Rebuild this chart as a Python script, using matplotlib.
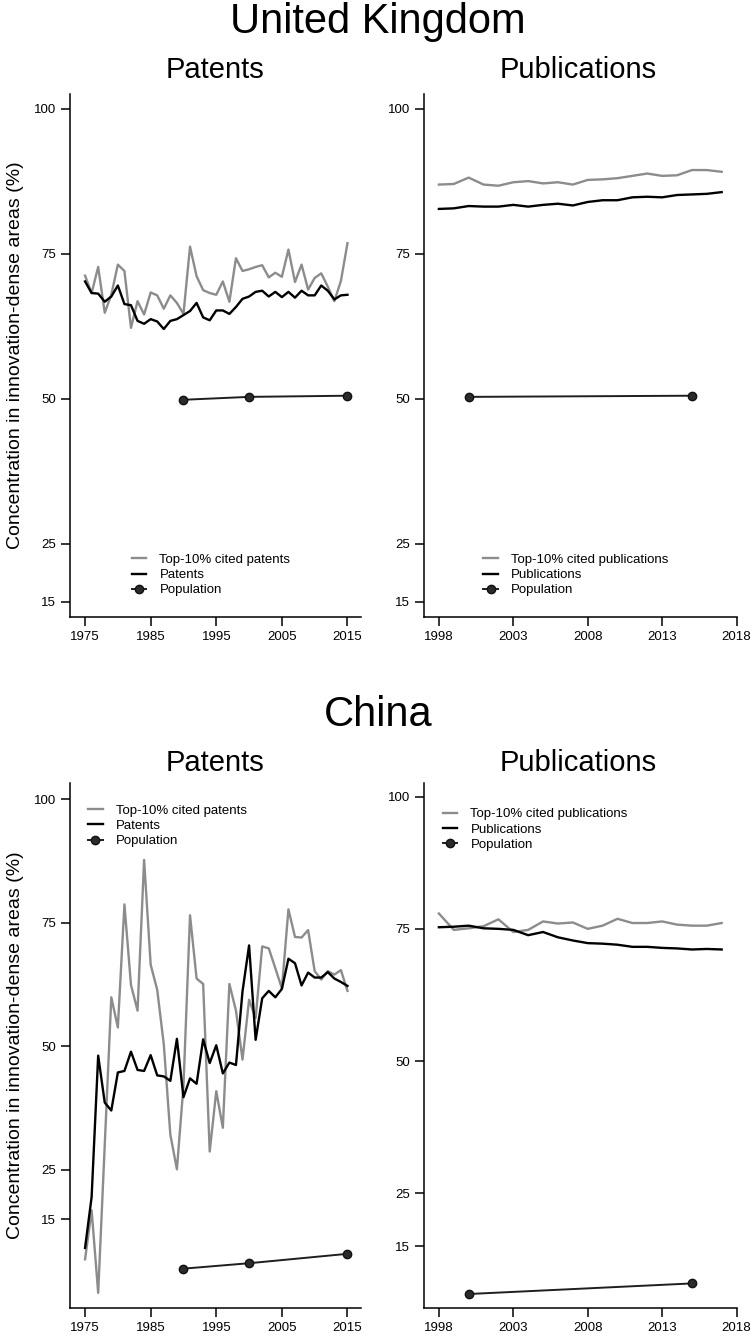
import matplotlib
matplotlib.use("Agg")
import matplotlib.pyplot as plt
from matplotlib.lines import Line2D

plt.rcParams['font.family'] = ['Liberation Sans', 'DejaVu Sans']

# ---- data ----
pat_years = list(range(1975, 2016))
pub_years = list(range(1998, 2018))
pop_years_pat = [1990, 2000, 2015]
pop_years_pub = [2000, 2015]

uk_patents = [70.2, 68.2, 68.1, 66.7, 67.6, 69.5, 66.3, 66.1, 63.4, 62.9,
              63.7, 63.3, 62.0, 63.4, 63.7, 64.4, 65.1, 66.5, 64.0, 63.5,
              65.2, 65.2, 64.6, 65.8, 67.2, 67.6, 68.4, 68.6, 67.6, 68.4,
              67.5, 68.4, 67.4, 68.6, 67.8, 67.8, 69.5, 68.6, 67.1, 67.8,
              67.9]
uk_patents_top = [71.2, 68.2, 72.7, 64.8, 67.9, 73.1, 72.0, 62.2, 66.8, 64.5,
                  68.3, 67.8, 65.5, 67.8, 66.5, 64.6, 76.2, 71.1, 68.7, 68.2,
                  67.9, 70.2, 66.7, 74.2, 72.0, 72.3, 72.7, 73.0, 70.9, 71.7,
                  71.0, 75.7, 70.1, 73.1, 68.8, 70.8, 71.6, 69.3, 66.8, 70.3,
                  76.8]
uk_pop_pat = [49.8, 50.3, 50.5]

uk_pubs = [82.7, 82.8, 83.2, 83.1, 83.1, 83.4, 83.1, 83.4, 83.6, 83.3,
           83.9, 84.2, 84.2, 84.7, 84.8, 84.7, 85.1, 85.2, 85.3, 85.6]
uk_pubs_top = [86.9, 87.0, 88.1, 86.9, 86.7, 87.3, 87.5, 87.1, 87.3, 86.9,
               87.7, 87.8, 88.0, 88.4, 88.8, 88.4, 88.5, 89.4, 89.4, 89.1]
uk_pop_pub = [50.3, 50.5]

cn_patents = [9.2, 19.5, 48.1, 38.6, 37.0, 44.7, 45.0, 48.9, 45.2, 45.0,
              48.2, 44.1, 43.9, 43.0, 51.5, 39.7, 43.5, 42.4, 51.4, 46.6,
              50.2, 44.5, 46.7, 46.2, 61.1, 70.4, 51.3, 59.7, 61.2, 59.9,
              61.6, 67.7, 66.8, 62.3, 64.9, 63.9, 63.9, 65.0, 63.7, 63.0,
              62.2]
cn_patents_top = [6.9, 16.8, 0.1, 30.0, 59.9, 53.8, 78.7, 62.4, 57.2, 87.7,
                  66.5, 61.4, 50.4, 32.1, 25.1, 42.0, 76.5, 63.7, 62.6, 28.7,
                  40.9, 33.5, 62.6, 57.2, 47.3, 59.4, 55.7, 70.2, 69.8, 65.8,
                  61.7, 77.7, 72.1, 72.0, 73.5, 65.2, 63.5, 65.2, 64.5, 65.4,
                  61.2]
cn_pop_pat = [5.0, 6.1, 8.0]

cn_pubs = [75.3, 75.4, 75.6, 75.1, 75.0, 74.8, 73.8, 74.4, 73.4, 72.8,
           72.3, 72.2, 72.0, 71.6, 71.6, 71.4, 71.3, 71.1, 71.2, 71.1]
cn_pubs_top = [77.9, 74.8, 75.1, 75.5, 76.8, 74.4, 74.8, 76.4, 76.0, 76.2,
               75.0, 75.6, 76.9, 76.1, 76.1, 76.4, 75.8, 75.6, 75.6, 76.1]
cn_pop_pub = [6.0, 8.0]

y_ticks = [15, 25, 50, 75, 100]
pat_ticks = [1975, 1985, 1995, 2005, 2015]
pub_ticks = [1998, 2003, 2008, 2013, 2018]

GRAY = '#8c8c8c'
BLACK = '#000000'
POP = '#1e1e1e'

W, H = 756, 1342
fig = plt.figure(figsize=(W / 100, H / 100), dpi=100)


def rect(l, t, r, b):
    return [l / W, 1 - b / H, (r - l) / W, (b - t) / H]


def draw_panel(box, years, main, top, pop_years, pop, ylim, xlim, xticks,
               kind, leg_xy):
    ax = fig.add_axes(rect(*box))
    ax.plot(years, top, color=GRAY, lw=1.7, label='Top-10% cited ' + kind.lower())
    ax.plot(years, main, color=BLACK, lw=1.7, label=kind)
    ax.plot(pop_years, pop, color=POP, lw=1.4, marker='o', ms=6,
            mfc='#2b2b2b', mec='#111111', label='Population')
    ax.set_xlim(*xlim)
    ax.set_ylim(*ylim)
    ax.set_xticks(xticks)
    ax.set_yticks(y_ticks)
    for s in ['top', 'right']:
        ax.spines[s].set_visible(False)
    for s in ['left', 'bottom']:
        ax.spines[s].set_linewidth(1.1)
    ax.tick_params(direction='out', length=6.7, width=1.1, labelsize=9.5,
                   pad=3.5)
    ax.legend(loc='center left', bbox_to_anchor=(leg_xy[0] / W, 1 - leg_xy[1] / H),
              bbox_transform=fig.transFigure, frameon=False, fontsize=9.5,
              handlelength=1.1, handletextpad=1.0, labelspacing=0.22,
              borderpad=0, borderaxespad=0)
    return ax


# United Kingdom
draw_panel((70.3, 93.5, 360.6, 617.3), pat_years, uk_patents, uk_patents_top,
           pop_years_pat, uk_pop_pat, (12.3, 102.6), (1972.75, 2017.0),
           pat_ticks, 'Patents', (131.7, 575))
draw_panel((424, 93.5, 737.3, 617.3), pub_years, uk_pubs, uk_pubs_top,
           pop_years_pub, uk_pop_pub, (12.3, 102.6), (1997.0, 2018.05),
           pub_ticks, 'Publications', (483.3, 575))

# China
draw_panel((70.3, 783.3, 360.6, 1307.7), pat_years, cn_patents, cn_patents_top,
           pop_years_pat, cn_pop_pat, (-2.9, 103.2), (1972.75, 2017.0),
           pat_ticks, 'Patents', (88, 826))
draw_panel((424, 783.3, 737.3, 1308.3), pub_years, cn_pubs, cn_pubs_top,
           pop_years_pub, cn_pop_pub, (3.3, 102.5), (1997.0, 2018.05),
           pub_ticks, 'Publications', (442.7, 829.5))

# titles
fig.text(0.5, 1 - 22 / H, 'United Kingdom', ha='center', va='center', fontsize=30)
fig.text(215.5 / W, 1 - 70 / H, 'Patents', ha='center', va='center', fontsize=21)
fig.text(578 / W, 1 - 70 / H, 'Publications', ha='center', va='center', fontsize=21)
fig.text(0.5, 1 - 715 / H, 'China', ha='center', va='center', fontsize=30)
fig.text(215.5 / W, 1 - 763 / H, 'Patents', ha='center', va='center', fontsize=21)
fig.text(578 / W, 1 - 763 / H, 'Publications', ha='center', va='center', fontsize=21)

ylab = 'Concentration in innovation-dense areas (%)'
fig.text(16 / W, 1 - 355.4 / H, ylab, rotation=90, ha='center', va='center', fontsize=14)
fig.text(16 / W, 1 - 1045.5 / H, ylab, rotation=90, ha='center', va='center', fontsize=14)

fig.savefig('out.png', dpi=100)
